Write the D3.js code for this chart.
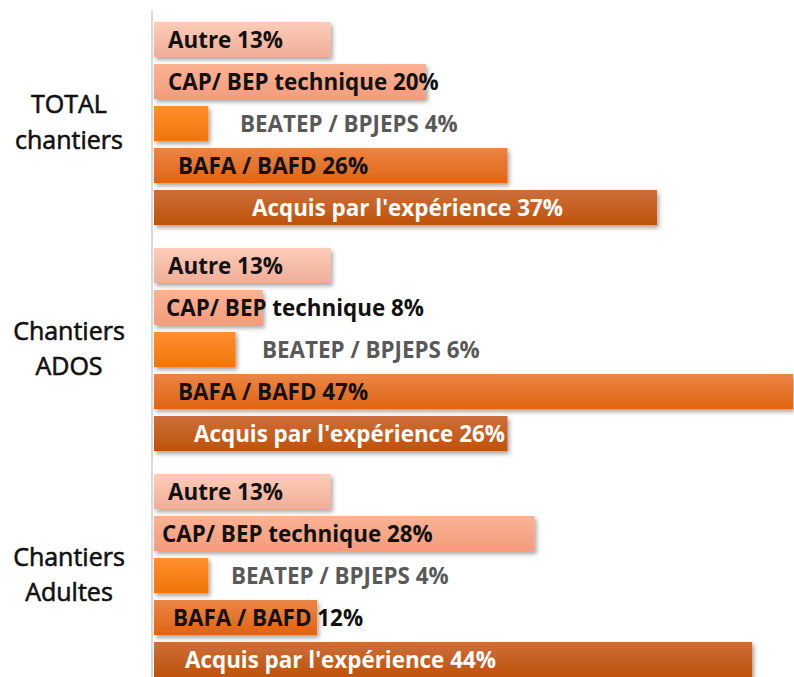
<!DOCTYPE html>
<html>
<head>
<meta charset="utf-8">
<script src="https://cdn.jsdelivr.net/npm/d3@7"></script>
<style>
  body { margin: 0; background: #fff; }
  .grp { font-family: "Open Sans", sans-serif; font-size: 25px; fill: #111; stroke: #111; stroke-width: 0.6px; }
  .lbl { font-family: "Open Sans", sans-serif; font-size: 22.4px; font-weight: bold; }
</style>
</head>
<body>
<div class="chart"></div>
<script>
var svgWidth = 794;
var svgHeight = 677;

// chart data
var groups = ["TOTAL chantiers", "Chantiers ADOS", "Chantiers Adultes"];
var series = ["Autre", "CAP/ BEP technique", "BEATEP / BPJEPS", "BAFA / BAFD", "Acquis par l'expérience"];
var totalValues = [13, 20, 4, 26, 37];
var adosValues = [13, 8, 6, 47, 26];
var adultesValues = [13, 28, 4, 12, 44];

var valuesByGroup = [totalValues, adosValues, adultesValues];

// label placement (x offset from axis), the labels were dragged by hand
var labelOffsets = [
  [14, 14, 86, 24, 98],
  [14, 12, 108, 24, 40],
  [14, 8, 77, 19, 31]
];

var gradTop = ["#fdccb8", "#fbb293", "#ff8f30", "#eb8546", "#cd6e3b"];
var gradBottom = ["#efae98", "#f29d7d", "#f07508", "#e06411", "#be5309"];
var textColors = ["#111", "#111", "#595959", "#111", "#fff"];

var svg = d3.select(".chart")
  .append("svg")
  .attr("width", svgWidth)
  .attr("height", svgHeight);

var defs = svg.append("defs");

series.forEach(function(s, i) {
  var g = defs.append("linearGradient")
    .attr("id", "grad" + i)
    .attr("x1", 0).attr("y1", 0).attr("x2", 0).attr("y2", 1);
  g.append("stop").attr("offset", "0%").attr("stop-color", gradTop[i]);
  g.append("stop").attr("offset", "100%").attr("stop-color", gradBottom[i]);
});

var shadow = defs.append("filter")
  .attr("id", "shadow")
  .attr("x", "-5%").attr("y", "-20%")
  .attr("width", "115%").attr("height", "160%");
shadow.append("feDropShadow")
  .attr("dx", 2).attr("dy", 3)
  .attr("stdDeviation", 2)
  .attr("flood-color", "#000")
  .attr("flood-opacity", 0.35);

// scales
var x0 = 154;
var xScale = d3.scaleLinear()
  .domain([0, 47])
  .range([x0, 793]);

var yGroup = d3.scaleBand()
  .domain(groups)
  .range([22, 677])
  .paddingInner(0.1018)
  .paddingOuter(0);

var ySeries = d3.scaleBand()
  .domain(series)
  .range([0, yGroup.bandwidth()])
  .paddingInner(7 / 42)
  .paddingOuter(0);

// build rows
var rows = [];
groups.forEach(function(grp, gi) {
  series.forEach(function(s, si) {
    rows.push({ group: grp, gi: gi, series: s, si: si, value: valuesByGroup[gi][si] });
  });
});

var chartGroup = svg.append("g");

chartGroup.selectAll("rect.bar")
  .data(rows)
  .enter()
  .append("rect")
  .attr("class", "bar")
  .attr("x", xScale(0))
  .attr("y", d => yGroup(d.group) + ySeries(d.series))
  .attr("width", d => xScale(d.value) - xScale(0))
  .attr("height", ySeries.bandwidth())
  .attr("fill", d => "url(#grad" + d.si + ")")
  .attr("filter", "url(#shadow)");

// vertical axis line
svg.append("line")
  .attr("x1", 152).attr("x2", 152)
  .attr("y1", 10).attr("y2", svgHeight)
  .attr("stroke", "#d9d9d9")
  .attr("stroke-width", 2);

// data labels
chartGroup.selectAll("text.lbl")
  .data(rows)
  .enter()
  .append("text")
  .attr("class", "lbl")
  .attr("x", d => x0 + labelOffsets[d.gi][d.si])
  .attr("y", d => yGroup(d.group) + ySeries(d.series) + ySeries.bandwidth() / 2)
  .attr("dy", "0.36em")
  .attr("fill", d => textColors[d.si])
  .text(d => d.series + " " + d.value + "%");

// group labels on the left
var grpLabels = svg.selectAll("text.grp")
  .data(groups)
  .enter()
  .append("text")
  .attr("class", "grp")
  .attr("text-anchor", "middle")
  .attr("x", 69)
  .attr("y", d => yGroup(d) + yGroup.bandwidth() / 2);

grpLabels.append("tspan")
  .attr("x", 69)
  .attr("dy", -10)
  .text(d => d.split(" ")[0]);

grpLabels.append("tspan")
  .attr("x", 69)
  .attr("dy", 35.5)
  .text(d => d.split(" ")[1]);
</script>
</body>
</html>
